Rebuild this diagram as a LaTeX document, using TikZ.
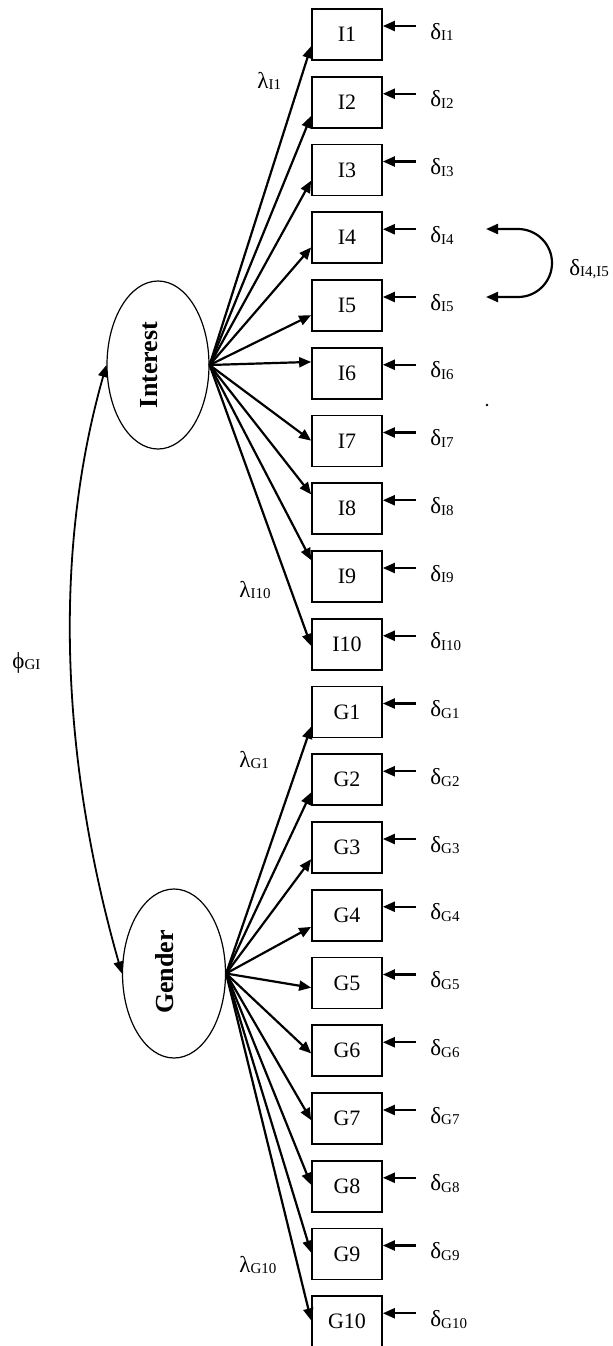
\documentclass[tikz,border=0pt]{standalone}
\usepackage{fontspec}
\setmainfont{Liberation Serif}
\usetikzlibrary{arrows.meta,shapes.geometric,calc}
\newcommand\sbs[1]{\raisebox{-0.9pt}{\fontsize{7.5}{8}\selectfont #1}}
\begin{document}
\begin{tikzpicture}[x=0.5pt,y=-0.5pt,
  obs/.style={draw,line width=0.85pt,rectangle,minimum width=35pt,minimum height=25.5pt,inner sep=0pt,font=\fontsize{11}{12}\selectfont},
  latent/.style={draw,line width=0.6pt,ellipse,inner sep=0pt},
  ltxt/.style={rotate=90,font=\fontsize{13}{15}\selectfont\bfseries,inner sep=0pt},
  load/.style={line width=1.1pt,-{Triangle[length=6pt,width=5pt]}},
  err/.style={line width=1.1pt,-{Triangle[length=6pt,width=5pt]}},
  cov/.style={line width=0.9pt,{Triangle[length=6pt,width=5pt]}-{Triangle[length=6pt,width=5pt]}},
  lab/.style={anchor=base west,inner sep=0pt,font=\fontsize{11.5}{12}\selectfont},
]
\useasboundingbox (0,0) rectangle (613,1346);

% latent variables
\node[latent,minimum width=51pt,minimum height=84pt] (int) at (158,365) {};
\node[ltxt] (intT) at (149,365) {Interest};
\node[latent,minimum width=51.5pt,minimum height=84.5pt] (gen) at (174,973.5) {};
\node[ltxt] (genT) at (165,972) {Gender};

% observed indicators, error terms
\foreach \i in {1,...,10} {
  \node[obs] (I\i) at (347,{9+67.75*(\i-1)+25.5}) {I\i};
  \node[lab] (dI\i) at (430,{9+67.75*(\i-1)+30}) {δ\sbs{I\i}};
  \coordinate (eI\i) at (416,{9+67.75*(\i-1)+17});
  \draw[err] (eI\i) -- (eI\i -| I\i.east);
}
\foreach \i in {1,...,10} {
  \node[obs] (G\i) at (347,{9+67.75*(\i+9)+25.5}) {G\i};
  \node[lab] (dG\i) at (430,{9+67.75*(\i+9)+30}) {δ\sbs{G\i}};
  \coordinate (eG\i) at (416,{9+67.75*(\i+9)+17});
  \draw[err] (eG\i) -- (eG\i -| G\i.east);
}

% loadings
\foreach \i/\o in {1/38,2/40,3/37,4/36,5/36,6/15,7/26,8/12,9/10,10/28} {
  \draw[load] (int.east) -- ($(I\i.north west)+(0,\o)$);
}
\foreach \i/\o in {1/41,2/39,3/38,4/38,5/31,6/29,7/28,8/25,9/25,10/25} {
  \draw[load] (gen.east) -- ($(G\i.north west)+(0,\o)$);
}

% loading labels
\node[lab] (lI1) at (257,88) {λ\sbs{I1}};
\node[lab] (lI10) at (239,597) {λ\sbs{I10}};
\node[lab] (lG1) at (239,767) {λ\sbs{G1}};
\node[lab] (lG10) at (239,1272) {λ\sbs{G10}};

% factor covariance
\draw[cov] (int.west) .. controls +(-57,200) and +(-57,-200) .. (gen.west);
\node[lab] (phi) at (12,668) {ϕ\sbs{GI}};

% error covariance
\coordinate (c4) at (486,229);
\coordinate (c5) at (486,297);
\draw[cov,line width=1.1pt] (c4) -- (518,229) arc (-90:90:34) -- (c5);
\node[lab] (dI45) at (569,275) {δ\sbs{I4,I5}};

% speck
\fill (487,405) circle (1.3);
\end{tikzpicture}
\end{document}
